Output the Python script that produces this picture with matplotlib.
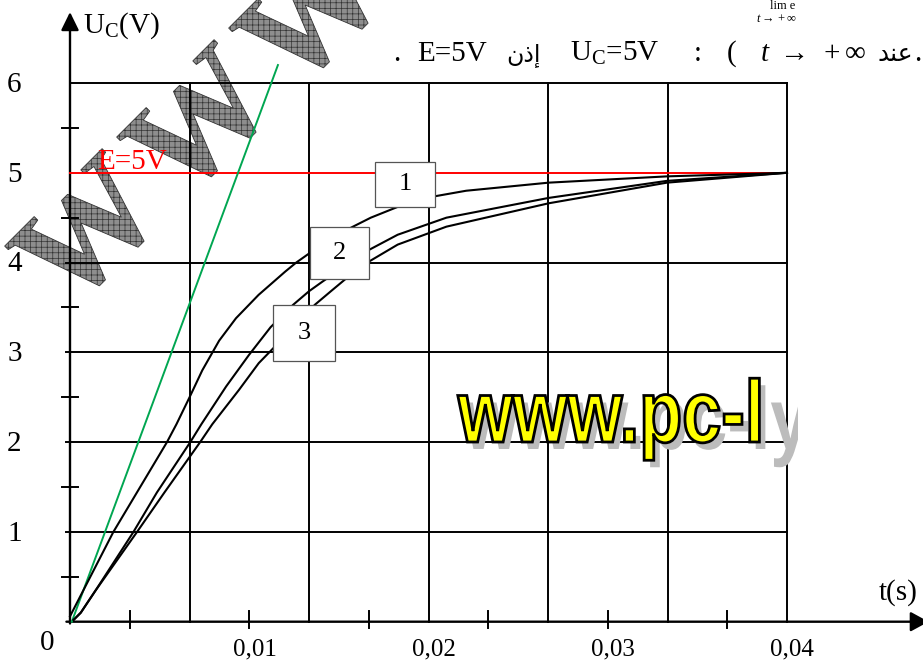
import matplotlib
matplotlib.use('Agg')
import matplotlib.pyplot as plt
from matplotlib.patches import Rectangle, PathPatch
from matplotlib.textpath import TextPath
from matplotlib.font_manager import FontProperties
from matplotlib.transforms import Affine2D, IdentityTransform, Bbox

plt.rcParams['font.family'] = ['Liberation Serif', 'DejaVu Sans']
plt.rcParams['mathtext.fontset'] = 'custom'
plt.rcParams['mathtext.rm'] = 'Liberation Serif'
plt.rcParams['mathtext.it'] = 'Liberation Serif:italic'
plt.rcParams['hatch.linewidth'] = 0.5

# ---------------- données
E = 5
t_max = 0.04
u_max = 6

# tangente à l'origine (verte)
t_tangente = [0.0001, 0.0116]
u_tangente = [0.0, 6.2]

# courbe 1
t_c1 = [0.0, 0.00242, 0.00541, 0.00594, 0.00667, 0.00738, 0.00832, 0.00926, 0.01052,
        0.01201, 0.01262, 0.01333, 0.01539, 0.01678, 0.01828, 0.0204, 0.0221, 0.0267,
        0.0333, 0.04]
u_c1 = [0.06, 1.0, 2.0, 2.2, 2.5, 2.8, 3.13, 3.38, 3.64,
        3.9, 4.0, 4.1, 4.36, 4.5, 4.62, 4.74, 4.8, 4.89,
        4.96, 5.0]

# courbe 2
t_c2 = [0.0002, 0.0006, 0.0014, 0.00354, 0.00485, 0.00671, 0.00733, 0.00871, 0.00998,
        0.01119, 0.01245, 0.01333, 0.0141, 0.01667, 0.01828, 0.021, 0.0267, 0.0333, 0.04]
u_c2 = [0.02, 0.1, 0.34, 1.0, 1.44, 2.0, 2.2, 2.62, 2.97,
        3.28, 3.53, 3.68, 3.79, 4.14, 4.31, 4.5, 4.72, 4.91, 5.0]

# courbe 3
t_c3 = [0.0002, 0.0006, 0.0014, 0.00374, 0.00527, 0.00726, 0.00794, 0.00942, 0.01053,
        0.01136, 0.01366, 0.01455, 0.01533, 0.01667, 0.01828, 0.021, 0.0267, 0.0333, 0.04]
u_c3 = [0.02, 0.1, 0.34, 1.0, 1.44, 2.0, 2.2, 2.58, 2.88,
        3.05, 3.53, 3.68, 3.81, 4.01, 4.2, 4.4, 4.66, 4.89, 5.0]

noms_courbes = ['1', '2', '3']
y_graduations = [1, 2, 3, 4, 5, 6]
x_graduations = [0.01, 0.02, 0.03, 0.04]
x_etiquettes = ['0,01', '0,02', '0,03', '0,04']

# ---------------- figure : un pixel = une unité d'écran
W, H = 923, 664
fig = plt.figure(figsize=(W / 100, H / 100), dpi=100)
ax = fig.add_axes([0, 0, 1, 1])
sx = t_max / 717.0
sy = u_max / 538.7
ax.set_xlim(-70 * sx, (W - 70) * sx)
ax.set_ylim(-(H - 621.7) * sy, 621.7 * sy)
ax.axis('off')


def pix(x, y):
    # position en pixels (origine en haut à gauche) -> données
    return (x - 70) * sx, (621.7 - y) * sy


# filigrane "WWW" en diagonale (une lettre à la fois)
fp = FontProperties(family='Liberation Serif', weight='bold')
for cx, cy in [(87, 231), (199, 122), (311, 13), (423, -96)]:
    tp = TextPath((0, 0), 'W', size=142, prop=fp)
    bb = tp.get_extents()
    tr = Affine2D().translate(-(bb.x0 + bb.x1) / 2, -(bb.y0 + bb.y1) / 2).rotate_deg(45).translate(cx, H - cy)
    ax.add_patch(PathPatch(tr.transform_path(tp), facecolor='#8e8e8e', edgecolor='#333333',
                           lw=0.6, hatch='+++', transform=IdentityTransform(), zorder=1))

# quadrillage
pas_t = t_max / 6
for k in range(1, 7):
    ax.plot([k * pas_t] * 2, [0, u_max], color='k', lw=1.4, zorder=2)
for v in y_graduations:
    if v == E:
        continue
    ax.plot([-0.0002 if v < u_max else 0, t_max], [v, v], color='k', lw=1.4, zorder=2)

# petites graduations
for k in range(6):
    ax.plot([-0.00045, 0.00045], [k + 0.5] * 2, color='k', lw=1.4, zorder=2)
for k in range(1, 12, 2):
    ax.plot([k * t_max / 12] * 2, [-0.07, 0.12], color='k', lw=1.4, zorder=2)

# axes avec flèches
ax.annotate('', xy=(0, 6.79), xytext=(0, -0.02),
            arrowprops=dict(arrowstyle='-|>,head_length=0.55,head_width=0.27', mutation_scale=20,
                            color='k', lw=1.7, shrinkA=0, shrinkB=0), zorder=3)
ax.annotate('', xy=(0.0479, 0), xytext=(-0.0002, 0),
            arrowprops=dict(arrowstyle='-|>,head_length=0.55,head_width=0.3', mutation_scale=20,
                            color='k', lw=1.7, shrinkA=0, shrinkB=0), zorder=3, annotation_clip=False)

# E = 5 V
ax.plot([0, t_max], [E, E], color='#ff0000', lw=1.4, zorder=3)
ax.text(*pix(97, 169), 'E=5V', color='#ff0000', fontsize=21, ha='left', va='baseline', zorder=6)

# tangente et courbes
ax.plot(t_tangente, u_tangente, color='#00a651', lw=1.4, zorder=4)
for t, u in [(t_c1, u_c1), (t_c2, u_c2), (t_c3, u_c3)]:
    ax.plot(t, u, color='k', lw=1.5, zorder=4, solid_joinstyle='round')

# étiquettes encadrées
boites = [(0.01700, 4.62, 0.00337, 0.50), (0.01339, 3.82, 0.00328, 0.58), (0.01135, 2.90, 0.00343, 0.63)]
for nom, (t0, u0, w, h) in zip(noms_courbes, boites):
    ax.add_patch(Rectangle((t0, u0), w, h, facecolor='white', edgecolor='#555555', lw=0.9, zorder=5))
    ax.text(t0 + w / 2, u0 + h / 2, nom, fontsize=19, ha='center', va='center', zorder=6)

# filigrane "www.pc-l"
fp2 = FontProperties(family='Liberation Sans', weight='bold')
base = Affine2D().scale(0.8, 1).translate(458, H - 442)
ombre = PathPatch(TextPath((0, 0), 'www.pc-ly', size=88, prop=fp2), facecolor='#bcbcbc',
                  edgecolor='none', transform=base + Affine2D().translate(6, -7), zorder=6)
ax.add_patch(ombre)
ombre.set_clip_box(Bbox.from_extents(0, 0, 798, H))
ax.add_patch(PathPatch(TextPath((0, 0), 'www.pc-l', size=88, prop=fp2), facecolor='#ffff00',
                       edgecolor='k', lw=2, transform=base, zorder=7))

# graduations
for v in y_graduations:
    ax.text(-0.0031, v - 0.02, str(v), fontsize=21, ha='center', va='center')
ax.text(*pix(47, 643), '0', fontsize=21, ha='center', va='center')
for v, s in zip(x_graduations, x_etiquettes):
    ax.text(v + 0.0003, -0.31, s, fontsize=18, ha='center', va='center')

ax.text(*pix(83, 33), r'U$_{\rm C}$(V)', fontsize=21, ha='left', va='baseline')
ax.text(*pix(898, 593), 't(s)', fontsize=21, ha='center', va='center')

# texte du haut
ax.text(*pix(783, 0), 'lim e', fontsize=9, ha='center', va='top')
ax.text(*pix(776, 13), r'$t\rightarrow+\infty$', fontsize=9, ha='center', va='top')
ax.text(*pix(393, 61), '.', fontsize=21, ha='left', va='baseline')
ax.text(*pix(417, 61), 'E=5V', fontsize=21, ha='left', va='baseline')
ax.text(*pix(523, 61), '\uFEE5\uFEAB\uFE87', family=['DejaVu Sans'], fontsize=17, ha='center', va='baseline')
ax.text(*pix(570, 61), r'U$_{\rm C}$=5V', fontsize=21, ha='left', va='baseline')
ax.text(*pix(698, 61), ':', fontsize=21, ha='center', va='baseline')
ax.text(*pix(732, 61), '(', fontsize=21, ha='center', va='baseline')
ax.text(*pix(760, 61), r'$t\ \rightarrow\ +\infty$', fontsize=21, ha='left', va='baseline')
ax.text(*pix(895, 61), '\uFEAA\uFEE8\uFECB', family=['DejaVu Sans'], fontsize=18, ha='center', va='baseline')
ax.text(*pix(914, 61), '.', fontsize=21, ha='left', va='baseline')

fig.savefig('out.png', dpi=100)
